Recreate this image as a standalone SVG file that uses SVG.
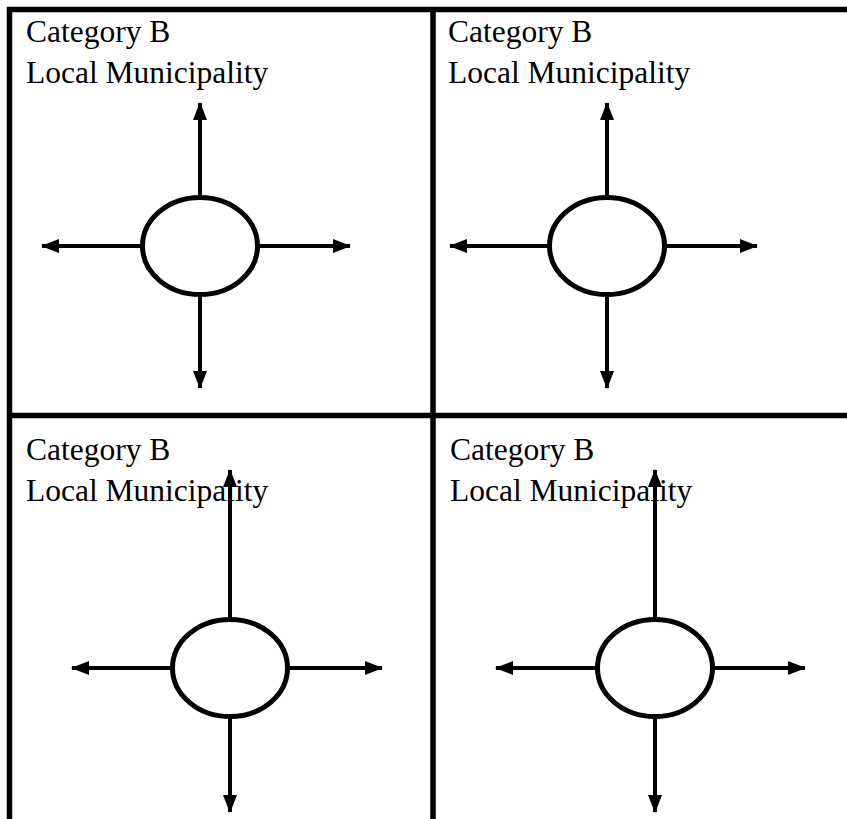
<svg xmlns="http://www.w3.org/2000/svg" width="847" height="819" viewBox="0 0 847 819">
<defs>
<style>
.frame{stroke:#000;stroke-width:5.5;fill:none}
.lbl{font-family:"Liberation Serif","Times New Roman",serif;font-size:31.5px;fill:#000}
.hub{fill:#fff;stroke:#000;stroke-width:5}
.arr{stroke:#000;stroke-width:4;fill:none;marker-end:url(#ah)}
</style>
<marker id="ah" markerUnits="userSpaceOnUse" markerWidth="18" markerHeight="14" refX="17" refY="7" orient="auto">
<path d="M0,0 L18,7 L0,14 Z" fill="#000"/>
</marker>
</defs>
<g id="frame">
<line class="frame" x1="7" y1="9.5" x2="847" y2="9.5"/>
<line class="frame" x1="9.5" y1="7" x2="9.5" y2="819"/>
<line class="frame" x1="433" y1="7" x2="433" y2="819"/>
<line class="frame" x1="7" y1="415.5" x2="847" y2="415.5"/>
</g>
<g id="connectors">
<line class="arr" x1="200" y1="197" x2="200" y2="103"/>
<line class="arr" x1="200" y1="295" x2="200" y2="388"/>
<line class="arr" x1="142" y1="246" x2="42" y2="246"/>
<line class="arr" x1="258" y1="246" x2="350" y2="246"/>
<line class="arr" x1="607" y1="197" x2="607" y2="103"/>
<line class="arr" x1="607" y1="295" x2="607" y2="388"/>
<line class="arr" x1="549" y1="246" x2="450" y2="246"/>
<line class="arr" x1="665" y1="246" x2="757" y2="246"/>
<line class="arr" x1="230" y1="619" x2="230" y2="470"/>
<line class="arr" x1="230" y1="717" x2="230" y2="812"/>
<line class="arr" x1="172" y1="668" x2="72" y2="668"/>
<line class="arr" x1="288" y1="668" x2="382" y2="668"/>
<line class="arr" x1="655" y1="619" x2="655" y2="470"/>
<line class="arr" x1="655" y1="717" x2="655" y2="812"/>
<line class="arr" x1="597" y1="668" x2="496" y2="668"/>
<line class="arr" x1="713" y1="668" x2="805" y2="668"/>
</g>
<g id="panel-tl">
<text class="lbl" x="26" y="42">Category B</text>
<text class="lbl" x="26" y="83">Local Municipality</text>
<ellipse class="hub" cx="200" cy="246" rx="57.5" ry="48.5"/>
</g>
<g id="panel-tr">
<text class="lbl" x="448" y="42">Category B</text>
<text class="lbl" x="448" y="83">Local Municipality</text>
<ellipse class="hub" cx="607" cy="246" rx="57.5" ry="48.5"/>
</g>
<g id="panel-bl">
<text class="lbl" x="26" y="460">Category B</text>
<text class="lbl" x="26" y="501">Local Municipality</text>
<ellipse class="hub" cx="230" cy="668" rx="57.5" ry="48.5"/>
</g>
<g id="panel-br">
<text class="lbl" x="450" y="460">Category B</text>
<text class="lbl" x="450" y="501">Local Municipality</text>
<ellipse class="hub" cx="655" cy="668" rx="57.5" ry="48.5"/>
</g>
</svg>
